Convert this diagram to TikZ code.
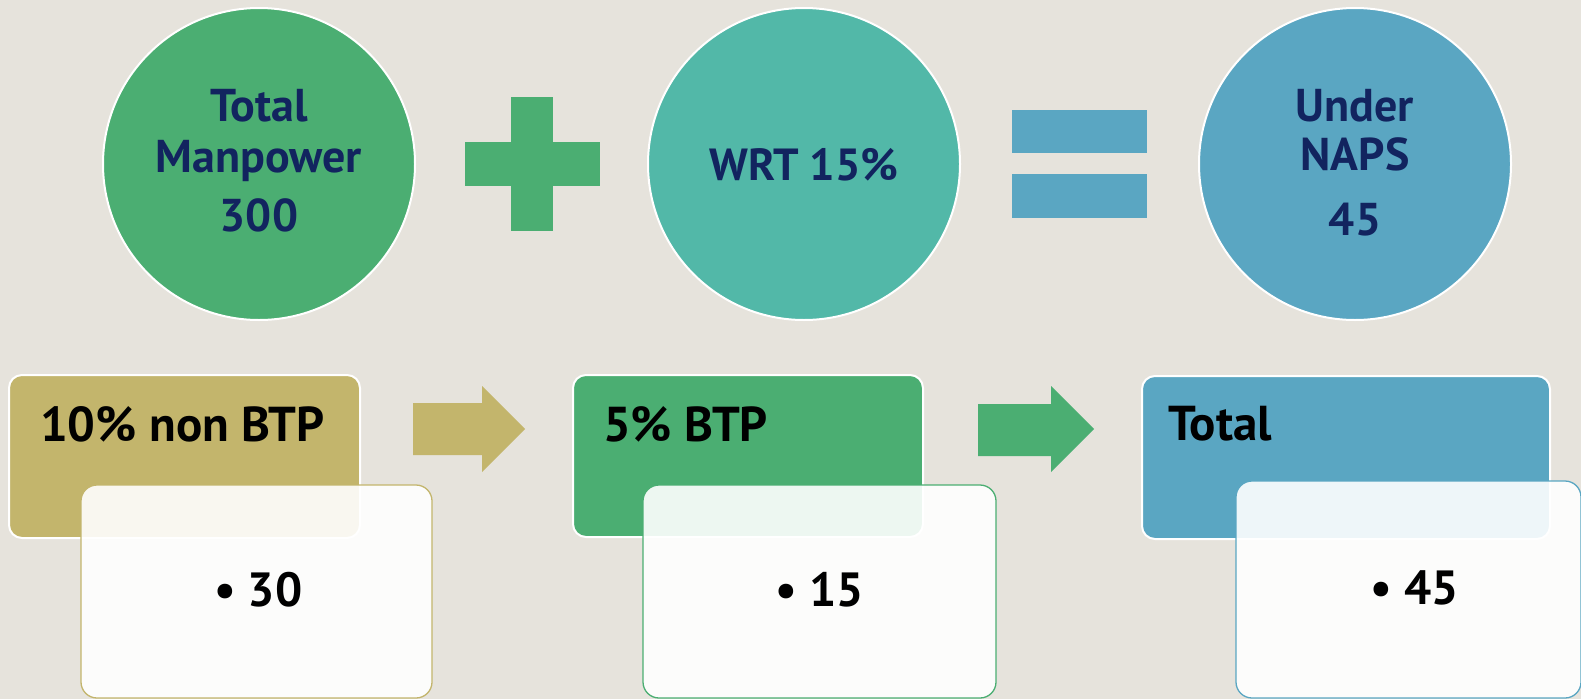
\documentclass[tikz,border=0pt]{standalone}
\usepackage{fontspec}
\setmainfont{PT Sans}
\usetikzlibrary{calc}
\definecolor{bg}{HTML}{E6E3DC}
\definecolor{cgreen}{HTML}{4BAE72}
\definecolor{cteal}{HTML}{52B8A8}
\definecolor{cblue}{HTML}{5AA6C2}
\definecolor{colive}{HTML}{C3B56C}
\definecolor{navy}{HTML}{12245F}
\tikzset{
  x=1pt, y=-1pt,
  disc/.style={circle, draw=white, line width=2pt, minimum size=312pt, inner sep=0pt},
  disctext/.style={anchor=base, inner sep=0pt, text=navy, font=\bfseries\fontsize{46}{51}\selectfont},
  headbox/.style={draw=white, line width=2pt, rounded corners=13pt},
  notebox/.style={line width=1.3pt, rounded corners=16pt, fill=white, fill opacity=0.9},
  headtext/.style={anchor=west, font=\bfseries\fontsize{49}{60}\selectfont, text=black, inner sep=0pt},
  notetext/.style={anchor=west, font=\bfseries\fontsize{48}{56}\selectfont, text=black, inner sep=0pt},
}
\begin{document}
\begin{tikzpicture}
\fill[bg] (0,0) rectangle (1581,699);
\useasboundingbox (0,0) rectangle (1581,699);

% top row: sum of circles
\node[disc, fill=cgreen] (manpower) at (259,164) {};
\node[disc, fill=cteal] (wrt) at (804,164) {};
\node[disc, fill=cblue] (naps) at (1355,164) {};

\node[disctext] (mp1) at (259,121) {Total};
\node[disctext] (mp2) at (259,172) {Manpower};
\node[disctext] (mp3) at (259,231) {300};
\node[disctext, font=\bfseries\fontsize{45}{51}\selectfont] (wrtlabel) at (804,180) {WRT 15\%};
\node[disctext] (np1) at (1355,121) {Under};
\node[disctext] (np2) at (1355,170) {NAPS};
\node[disctext] (np3) at (1355,235) {45};

% plus sign
\fill[cgreen] (511,97) rectangle (553,231);
\fill[cgreen] (465,142) rectangle (600,186);

% equals sign
\fill[cblue] (1012,110) rectangle (1147,153);
\fill[cblue] (1012,174) rectangle (1147,218);

% bottom row: heading boxes
\draw[headbox, fill=colive] (9,375) rectangle (360,538);
\draw[headbox, fill=cgreen] (573,375) rectangle (923,537);
\draw[headbox, fill=cblue] (1142,376) rectangle (1550,539);

% value boxes laid over the headings
\draw[notebox, draw=colive] (81,485) rectangle (432,698);
\draw[notebox, draw=cgreen] (643,485) rectangle (996,698);
\draw[notebox, draw=cblue] (1236,481) rectangle (1581,698);

% block arrows between the boxes
\fill[colive] (413,403) -- (482,403) -- (482,386) -- (525,429) -- (482,472) -- (482,455) -- (413,455) -- cycle;
\fill[cgreen] (978,404) -- (1051,404) -- (1051,386) -- (1094,429) -- (1051,472) -- (1051,456) -- (978,456) -- cycle;

% labels
\node[headtext] (nonbtp) at (40,424) {10\% non BTP};
\node[headtext] (btp) at (603,424) {5\% BTP};
\node[headtext] (total) at (1168,424) {Total};
\node[notetext] (v30) at (214,590) {• 30};
\node[notetext] (v15) at (775,590) {• 15};
\node[notetext] (v45) at (1370,588) {• 45};
\end{tikzpicture}
\end{document}
